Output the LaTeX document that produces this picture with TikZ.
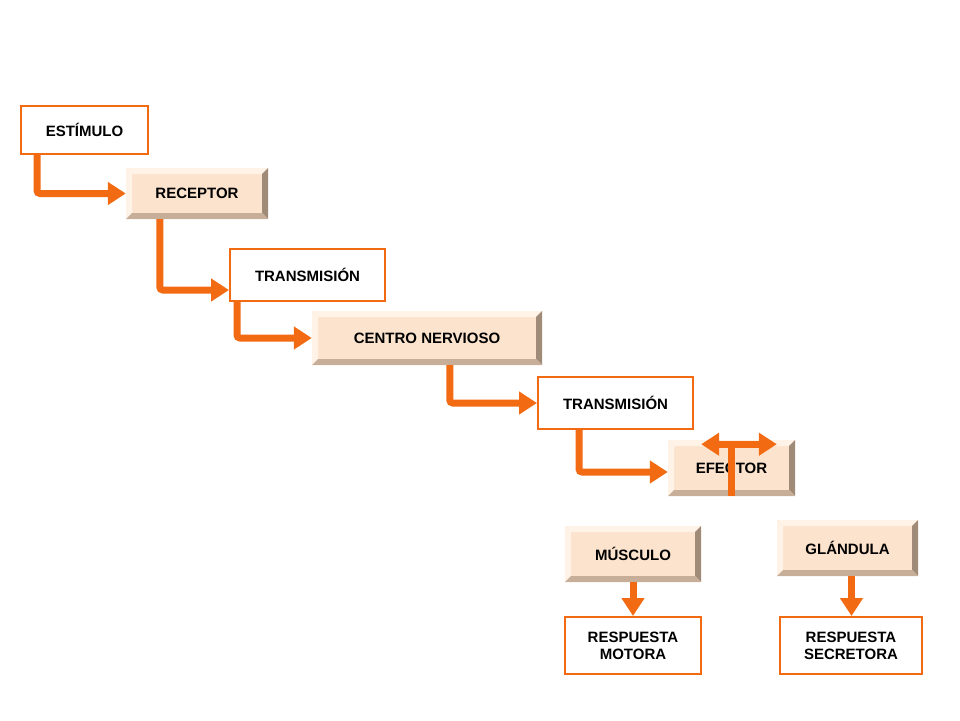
\documentclass[tikz,border=0pt]{standalone}
\usepackage{fontspec}
\setmainfont{Liberation Sans}
\usetikzlibrary{arrows.meta}
\usetikzlibrary{positioning}
\definecolor{flujo}{HTML}{F26A12}
\definecolor{cara}{HTML}{FCE3CD}
\definecolor{bordeclaro}{HTML}{FFF2E6}
\definecolor{bordeoscuro}{HTML}{A08A78}
\definecolor{bordebajo}{HTML}{C6AE98}
\tikzset{
    caja/.style={draw=flujo, line width=2pt, fill=white, font=\bfseries\fontsize{15}{17}\selectfont, align=center, inner sep=0pt},
    boton/.style={fill=cara, font=\bfseries\fontsize{15}{17}\selectfont, align=center, inner sep=0pt,
        path picture={
            \fill[bordeclaro] (path picture bounding box.north west) -- (path picture bounding box.north east)
                -- ([shift={(-6pt,-6pt)}]path picture bounding box.north east) -- ([shift={(6pt,-6pt)}]path picture bounding box.north west) -- cycle;
            \fill[bordeclaro] (path picture bounding box.north west) -- ([shift={(6pt,-6pt)}]path picture bounding box.north west)
                -- ([shift={(6pt,6pt)}]path picture bounding box.south west) -- (path picture bounding box.south west) -- cycle;
            \fill[bordeoscuro] (path picture bounding box.north east) -- (path picture bounding box.south east)
                -- ([shift={(-6pt,6pt)}]path picture bounding box.south east) -- ([shift={(-6pt,-6pt)}]path picture bounding box.north east) -- cycle;
            \fill[bordebajo] (path picture bounding box.south west) -- (path picture bounding box.south east)
                -- ([shift={(-6pt,6pt)}]path picture bounding box.south east) -- ([shift={(6pt,6pt)}]path picture bounding box.south west) -- cycle;
        }},
    flecha/.style={draw=flujo, line width=7pt, -{Triangle[length=18pt,width=22pt]}},
}
\begin{document}
\begin{tikzpicture}[x=1pt,y=-1pt]
    \useasboundingbox (0,0) rectangle (960,720);
    % cadena principal
    \node[caja, minimum width=127pt, minimum height=48pt] (estimulo) at (84.5,130) {ESTÍMULO};
    \node[boton, minimum width=142pt, minimum height=51pt] (receptor) at (197,193.5) {RECEPTOR};
    \node[caja, minimum width=155pt, minimum height=52pt] (trans1) at (307.5,275) {TRANSMISIÓN};
    \node[boton, minimum width=230pt, minimum height=54pt] (centro) at (427,338) {CENTRO NERVIOSO};
    \node[caja, minimum width=155pt, minimum height=52pt] (trans2) at (615.5,403) {TRANSMISIÓN};
    \node[boton, minimum width=127pt, minimum height=56pt] (efector) at (731.5,468) {EFECTOR};
    % respuestas
    \node[boton, minimum width=136pt, minimum height=56pt] (musculo) at (633,554) {MÚSCULO};
    \node[boton, minimum width=141pt, minimum height=56pt] (glandula) at (847.5,548) {GLÁNDULA};
    \node[caja, minimum width=136pt, minimum height=57pt] (motora) at (633,645.5) {RESPUESTA\\MOTORA};
    \node[caja, minimum width=142pt, minimum height=57pt] (secretora) at (851,645.5) {RESPUESTA\\SECRETORA};
    % flechas
    \draw[flecha, rounded corners=3pt] ([xshift=17pt]estimulo.south west) |- (receptor.west);
    \draw[flecha, rounded corners=3pt] ([xshift=34pt]receptor.south west) |- ([yshift=-15pt]trans1.west);
    \draw[flecha, rounded corners=3pt] ([xshift=8pt]trans1.south west) |- (centro.west);
    \draw[flecha, rounded corners=3pt] ([xshift=138pt]centro.south west) |- (trans2.west);
    \draw[flecha, rounded corners=3pt] ([xshift=42pt]trans2.south west) |- ([yshift=-4pt]efector.west);
    \coordinate (rama) at ([yshift=52pt]efector.south);
    \draw[draw=flujo, line width=7pt] (efector.south) -- ([yshift=-3pt]rama);
    \draw[draw=flujo, line width=7pt, {Triangle[length=18pt,width=22pt]}-{Triangle[length=18pt,width=22pt]}] (musculo.east |- rama) -- (glandula.west |- rama);
    \draw[flecha] (musculo.south) -- (motora.north);
    \draw[flecha] ([xshift=4pt]glandula.south) -- ([xshift=4pt]glandula.south |- secretora.north);
\end{tikzpicture}
\end{document}
